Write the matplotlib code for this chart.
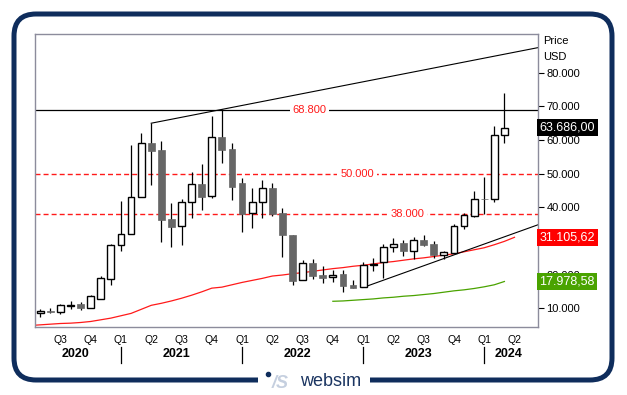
import matplotlib
matplotlib.use("Agg")
import matplotlib.pyplot as plt
from matplotlib.patches import Rectangle, FancyBboxPatch
import pandas as pd

plt.rcParams['font.family'] = ['Liberation Sans', 'DejaVu Sans']

# monthly candles, May 2020 .. Mar 2024 (price in USD thousands)
months = pd.period_range('2020-05', '2024-03', freq='M')
opens = [8.5, 9.2, 8.8, 10.8, 11.2, 10.2, 12.9, 18.8, 28.7, 32.0, 43.0, 59.1,
         57.0, 36.6, 34.4, 41.5, 46.9, 43.3, 60.8, 57.2, 47.1, 38.2, 41.5, 45.8,
         38.4, 31.9, 18.3, 23.5, 19.9, 19.2, 20.2, 16.9, 16.3, 22.8, 23.7, 28.2,
         29.5, 27.0, 30.3, 29.2, 25.9, 26.4, 34.4, 37.5, 42.6, 42.4, 61.4]
highs = [9.8, 10.1, 11.3, 12.2, 11.8, 13.9, 19.7, 29.2, 42.0, 58.5, 62.1, 65.0,
         59.7, 41.3, 42.5, 50.5, 52.9, 67.1, 69.1, 59.0, 48.6, 45.7, 48.1, 47.3,
         39.9, 31.9, 24.3, 24.7, 22.5, 21.3, 21.3, 18.3, 23.9, 25.0, 29.2, 30.8,
         30.2, 31.1, 31.9, 30.0, 27.1, 35.1, 38.4, 44.9, 49.1, 64.2, 74.0]
lows = [7.5, 8.5, 8.4, 9.9, 9.4, 10.0, 12.7, 17.0, 27.1, 32.0, 43.0, 46.7,
        29.8, 28.3, 28.9, 36.9, 39.2, 42.9, 53.3, 42.2, 32.8, 34.0, 36.9, 37.5,
        25.2, 17.0, 18.3, 18.7, 17.6, 17.8, 14.9, 16.0, 16.2, 21.2, 18.9, 26.6,
        25.5, 24.7, 28.6, 25.0, 24.7, 26.4, 33.7, 37.2, 38.0, 41.7, 59.2]
closes = [9.2, 8.8, 11.0, 11.1, 10.2, 13.7, 18.9, 28.8, 32.0, 43.0, 59.0, 56.8,
          36.3, 34.3, 41.5, 46.9, 43.2, 60.8, 57.1, 46.1, 38.0, 41.5, 45.7, 38.1,
          31.7, 18.2, 23.5, 19.7, 19.1, 20.0, 16.6, 16.0, 22.8, 23.3, 28.2, 29.1,
          26.9, 30.2, 28.9, 25.8, 26.8, 34.5, 37.7, 42.4, 42.4, 61.5, 63.686]

# moving averages
ma_red_start = '2020-04'
ma_red = [4.9, 5.1, 5.3, 5.5, 5.6, 5.8, 6.1, 6.6, 7.1, 7.8, 8.5, 9.7,
          10.9, 11.5, 12.2, 13.0, 13.9, 14.9, 16.0, 16.3, 17.0, 17.7, 18.3, 18.9,
          19.6, 19.9, 20.3, 20.6, 21.0, 21.4, 21.8, 22.1, 22.5, 22.8, 23.2, 23.6,
          23.9, 24.3, 24.7, 25.0, 25.4, 25.8, 26.2, 26.8, 27.4, 28.0, 28.9, 29.9,
          31.10562]
ma_green_start = '2022-10'
ma_green = [12.1, 12.2, 12.4, 12.6, 12.8, 13.1, 13.3, 13.6, 13.8, 14.1, 14.4,
            14.8, 15.2, 15.5, 15.9, 16.4, 17.0, 17.97858]

# horizontal levels and trend lines
levels = [68.8, 50.0, 38.0]
level_labels = ['68.800', '50.000', '38.000']
level_label_pos = [26.7, 31.4, 36.4]
resist_pts = [('2021-04', 65.0), ('2021-11', 69.1)]
support_pts = [('2023-01', 16.2), ('2023-09', 24.8)]

yticks = [10, 20, 30, 40, 50, 60, 70, 80]

RED = '#ff1a1a'
GREEN = '#4aa300'
NAVY = '#0f2d5c'
XMIN, XMAX = -0.52, 49.33


def idx_of(period):
    return (pd.Period(period, freq='M') - months[0]).n


def badge_text(v):
    s = f"{v * 1000:,.2f}"
    return s.replace(',', '#').replace('.', ',').replace('#', '.')


fig = plt.figure(figsize=(6.27, 3.95), dpi=100)

# background frame in pixel coordinates
bg = fig.add_axes([0, 0, 1, 1])
bg.set_xlim(0, 627)
bg.set_ylim(395, 0)
bg.axis('off')
bg.add_patch(FancyBboxPatch((14, 14), 598, 366,
                            boxstyle='round,pad=0,rounding_size=22',
                            fc='white', ec=NAVY, lw=3.6))
bg.add_patch(Rectangle((258, 372), 112, 16, fc='white', ec='none'))
bg.text(300, 382, 'websim', fontsize=13, color='#1b3561',
        ha='left', va='center')
bg.text(272, 383, '/S', fontsize=13, color='#c5cfdf', style='italic',
        weight='bold', ha='left', va='center')
bg.plot([268], [374], 'o', ms=3, color=NAVY)
bg.text(543, 41, 'Price', fontsize=8, ha='left', va='center')
bg.text(543, 57, 'USD', fontsize=8, ha='left', va='center')

ax = fig.add_axes([35 / 627, 1 - 327 / 395, 503 / 627, 293 / 395])
ax.set_xlim(XMIN, XMAX)
ax.set_ylim(4.46, 91.5)

x = list(range(len(months)))

# wicks
ax.vlines(x, lows, highs, color='black', lw=0.9, zorder=3)
# bodies
w = 0.68
for i, o, c in zip(x, opens, closes):
    lo, hgt = min(o, c), max(abs(c - o), 0.15)
    if c >= o:
        ax.add_patch(Rectangle((i - w / 2, lo), w, hgt, fc='white',
                               ec='black', lw=1.0, zorder=4))
    else:
        ax.add_patch(Rectangle((i - w / 2, lo), w, hgt, fc='#666666',
                               ec='#666666', lw=0.5, zorder=4))

# moving averages
r0 = idx_of(ma_red_start)
ax.plot(range(r0, r0 + len(ma_red)), ma_red, color=RED, lw=0.9, zorder=2)
g0 = idx_of(ma_green_start)
ax.plot(range(g0, g0 + len(ma_green)), ma_green, color=GREEN, lw=0.9,
        zorder=2)

# trend lines
for pts in (resist_pts, support_pts):
    (p1, v1), (p2, v2) = pts
    i1, i2 = idx_of(p1), idx_of(p2)
    slope = (v2 - v1) / (i2 - i1)
    ax.plot([i1, XMAX], [v1, v1 + slope * (XMAX - i1)], color='black',
            lw=0.8, zorder=2)

# horizontal levels
for lvl, lab, pos in zip(levels, level_labels, level_label_pos):
    if lvl == 68.8:
        ax.axhline(lvl, color='black', lw=0.9, zorder=2)
    else:
        ax.axhline(lvl, color=RED, lw=1.0, ls=(0, (3.6, 2.2)), zorder=2)
    ax.text(pos, lvl, lab, color=RED, fontsize=8, ha='center', va='center',
            zorder=5, bbox=dict(boxstyle='square,pad=0.25', fc='white',
                                ec='none'))

# y axis on the right
ax.yaxis.tick_right()
ax.set_yticks(yticks)
ax.set_yticklabels([f"{v:.3f}" for v in yticks], fontsize=8)
ax.tick_params(axis='y', length=4, width=0.8, pad=2, color='black')

# quarter ticks
all_months = pd.period_range(months[0], '2024-04', freq='M')
q_pos = [i for i, m in enumerate(all_months) if m.month in (1, 4, 7, 10)]
q_lab = [f"Q{(all_months[i].month - 1) // 3 + 1}" for i in q_pos]
ax.set_xticks(q_pos)
ax.set_xticklabels(q_lab, fontsize=7.5)
ax.tick_params(axis='x', length=0, pad=6)

# year labels and separators
years = sorted(set(m.year for m in all_months))
trans = ax.get_xaxis_transform()
for yr in years:
    start = (pd.Period(f'{yr}-01', freq='M') - months[0]).n - 0.5
    end = start + 12
    cx = (max(start, XMIN) + min(end, XMAX)) / 2
    ax.text(cx, -0.092, str(yr), transform=trans, fontsize=9,
            weight='bold', ha='center', va='center')
    if start > XMIN:
        ax.plot([start + 0.5] * 2, [-0.067, -0.122], transform=trans,
                color='black', lw=0.9, clip_on=False)

for s in ax.spines.values():
    s.set_color('#8c8c9c')
    s.set_linewidth(1.0)

# value badges
badges = [(closes[-1], 'black'), (ma_red[-1], '#ff0000'),
          (ma_green[-1], GREEN)]
btrans = ax.get_yaxis_transform()
for val, col in badges:
    ax.text(1.003, val, badge_text(val), transform=btrans, color='white',
            fontsize=9, ha='left', va='center', zorder=10, clip_on=False,
            bbox=dict(boxstyle='square,pad=0.2', fc=col, ec='none'))

fig.savefig('out.png', dpi=100)
